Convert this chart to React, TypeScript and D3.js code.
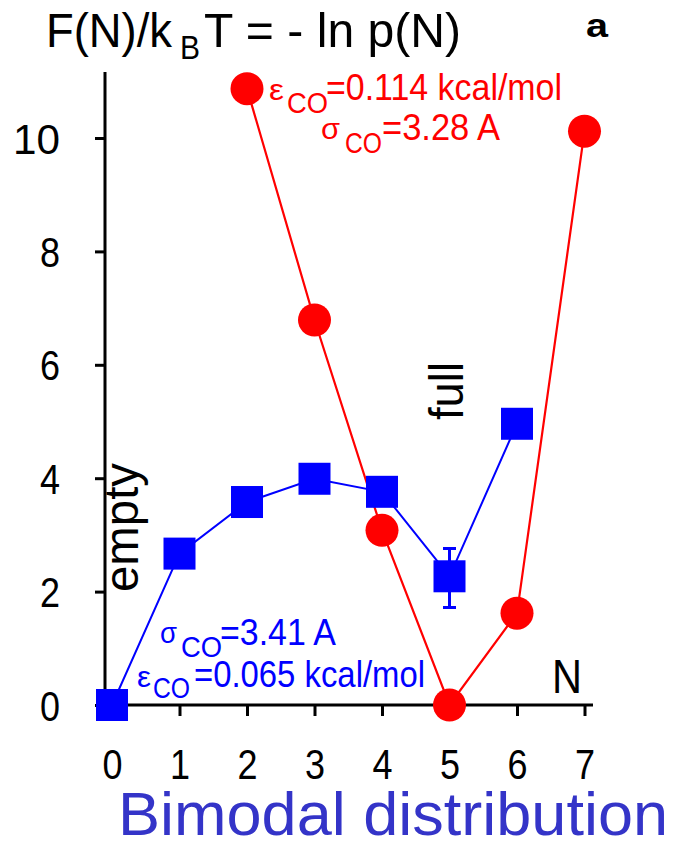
import { useEffect, useRef } from 'react';
import * as d3 from 'd3';

// N values on the x axis
const xTicks = [0, 1, 2, 3, 4, 5, 6, 7];
const yTicks = [0, 2, 4, 6, 8, 10];

// red series (eps_CO = 0.114 kcal/mol)
const redN = [2, 3, 4, 5, 6, 7];
const redF = [10.87, 6.79, 3.08, 0, 1.62, 10.12];

// blue series (eps_CO = 0.065 kcal/mol)
const blueN = [0, 1, 2, 3, 4, 5, 6];
const blueF = [0, 2.67, 3.58, 3.99, 3.76, 2.27, 4.96];

// error bar on the blue series
const errN = [5];
const errLo = [1.72];
const errHi = [2.76];

const RED = '#ff0000';
const BLUE = '#0000ff';
const FONT = '"Liberation Sans Narrow", "Liberation Sans", Arial, sans-serif';

export default function App() {
  const ref = useRef<SVGSVGElement>(null);

  useEffect(() => {
    if (!ref.current) return;
    const svg = d3.select(ref.current);
    svg.selectAll('*').remove();

    const x = d3.scaleLinear().domain([0, 7]).range([112, 584.5]);
    const y = d3.scaleLinear().domain([0, 10]).range([705, 138]);

    const g = svg.append('g');

    // axis lines (they run a bit past the data range)
    g.append('line')
      .attr('x1', 105).attr('x2', 105)
      .attr('y1', 72).attr('y2', y(0) + 1.5)
      .attr('stroke', '#000').attr('stroke-width', 3);
    g.append('line')
      .attr('x1', 105).attr('x2', 593)
      .attr('y1', y(0)).attr('y2', y(0))
      .attr('stroke', '#000').attr('stroke-width', 3);

    // Y axis ticks + labels
    const yAxis = g.append('g')
      .attr('transform', 'translate(105,0)')
      .call(
        d3.axisLeft(y)
          .tickValues(yTicks)
          .tickFormat(d3.format('d') as any)
          .tickSize(10)
          .tickSizeOuter(0)
          .tickPadding(35)
      );
    yAxis.select('.domain').remove();
    yAxis.selectAll('line').attr('stroke', '#000').attr('stroke-width', 3);
    yAxis.selectAll('text')
      .attr('fill', '#000')
      .attr('dy', '0.36em')
      .style('font-family', FONT)
      .style('font-size', '42px')
      .attr('textLength', (d: any) => (d >= 10 ? 47 : 20))
      .attr('lengthAdjust', 'spacingAndGlyphs');

    // X axis ticks + labels
    const xAxis = g.append('g')
      .attr('transform', `translate(0,${y(0)})`)
      .call(
        d3.axisBottom(x)
          .tickValues(xTicks)
          .tickFormat(d3.format('d') as any)
          .tickSize(11)
          .tickSizeOuter(0)
          .tickPadding(33)
      );
    xAxis.select('.domain').remove();
    xAxis.selectAll('line').attr('stroke', '#000').attr('stroke-width', 3);
    xAxis.selectAll('text')
      .attr('fill', '#000')
      .attr('dy', '0.71em')
      .style('font-family', FONT)
      .style('font-size', '42px')
      .attr('textLength', 20)
      .attr('lengthAdjust', 'spacingAndGlyphs');

    const red = redN.map((n, i) => ({ n, f: redF[i] }));
    const blue = blueN.map((n, i) => ({ n, f: blueF[i] }));
    const line = d3.line<{ n: number; f: number }>()
      .x((d) => x(d.n))
      .y((d) => y(d.f));

    // connecting lines
    g.append('path').datum(red)
      .attr('fill', 'none').attr('stroke', RED).attr('stroke-width', 2.2)
      .attr('d', line);
    g.append('path').datum(blue)
      .attr('fill', 'none').attr('stroke', BLUE).attr('stroke-width', 2)
      .attr('d', line);

    // red circles
    g.selectAll('.rdot').data(red).enter().append('circle')
      .attr('class', 'rdot')
      .attr('cx', (d) => x(d.n))
      .attr('cy', (d) => y(d.f))
      .attr('r', 16.5)
      .attr('fill', RED);

    // blue squares
    const sq = 32;
    g.selectAll('.bsq').data(blue).enter().append('rect')
      .attr('class', 'bsq')
      .attr('x', (d) => x(d.n) - sq / 2)
      .attr('y', (d) => y(d.f) - sq / 2)
      .attr('width', sq)
      .attr('height', sq)
      .attr('fill', BLUE);

    // error bar
    const errs = errN.map((n, i) => ({ n, lo: errLo[i], hi: errHi[i] }));
    const eb = g.selectAll('.err').data(errs).enter().append('g').attr('class', 'err');
    eb.append('line')
      .attr('x1', (d) => x(d.n)).attr('x2', (d) => x(d.n))
      .attr('y1', (d) => y(d.hi)).attr('y2', (d) => y(d.lo))
      .attr('stroke', BLUE).attr('stroke-width', 3);
    ['hi', 'lo'].forEach((k) => {
      eb.append('line')
        .attr('x1', (d: any) => x(d.n) - 6.5).attr('x2', (d: any) => x(d.n) + 6.5)
        .attr('y1', (d: any) => y(d[k])).attr('y2', (d: any) => y(d[k]))
        .attr('stroke', BLUE).attr('stroke-width', 3);
    });

    // text helper
    const txt = (
      s: string, tx: number, ty: number, size: number, len: number,
      color = '#000', weight = 'normal'
    ) =>
      g.append('text')
        .attr('x', tx).attr('y', ty)
        .attr('fill', color)
        .attr('textLength', len)
        .attr('lengthAdjust', 'spacingAndGlyphs')
        .style('font-family', FONT)
        .style('font-size', `${size}px`)
        .style('font-weight', weight)
        .text(s);

    // title
    txt('F(N)/k', 46, 47, 48, 126);
    txt('B', 180, 59, 34, 20);
    txt('T = - ln p(N)', 204, 47, 48, 257);
    txt('a', 586, 37, 34, 22, '#000', 'bold');

    // red annotation
    txt('\u03b5', 269, 100, 30, 15, RED);
    txt('CO', 287, 113, 29, 41, RED);
    txt('=0.114 kcal/mol', 326, 100, 37, 236, RED);
    txt('\u03c3', 321, 139, 30, 19, RED);
    txt('CO', 345, 153, 29, 37, RED);
    txt('=3.28 A', 382, 140, 37, 118, RED);

    // blue annotation
    txt('\u03c3', 160, 643, 30, 17, BLUE);
    txt('CO', 181, 657, 29, 41, BLUE);
    txt('=3.41 A', 220, 645, 37, 116, BLUE);
    txt('\u03b5', 137, 687, 30, 14, BLUE);
    txt('CO', 153, 698, 29, 37, BLUE);
    txt('=0.065 kcal/mol', 194, 687, 37, 231, BLUE);

    // N axis label
    txt('N', 552, 693, 48, 30);

    // rotated labels
    g.append('text')
      .attr('transform', 'translate(138,592) rotate(-90)')
      .attr('textLength', 129).attr('lengthAdjust', 'spacingAndGlyphs')
      .attr('fill', '#000')
      .style('font-family', FONT).style('font-size', '48px')
      .text('empty');
    g.append('text')
      .attr('transform', 'translate(463,420) rotate(-90)')
      .attr('textLength', 58).attr('lengthAdjust', 'spacingAndGlyphs')
      .attr('fill', '#000')
      .style('font-family', FONT).style('font-size', '48px')
      .text('full');

    // caption
    g.append('text')
      .attr('x', 118).attr('y', 835)
      .attr('fill', '#3434c8')
      .attr('textLength', 550).attr('lengthAdjust', 'spacingAndGlyphs')
      .style('font-family', '"Liberation Sans", Arial, sans-serif')
      .style('font-size', '61px')
      .text('Bimodal distribution');
  }, []);

  return (
    <svg
      ref={ref}
      width={676}
      height={842}
      viewBox="0 0 676 842"
      style={{ position: 'absolute', left: 0, top: 0, background: '#fff' }}
    />
  );
}
